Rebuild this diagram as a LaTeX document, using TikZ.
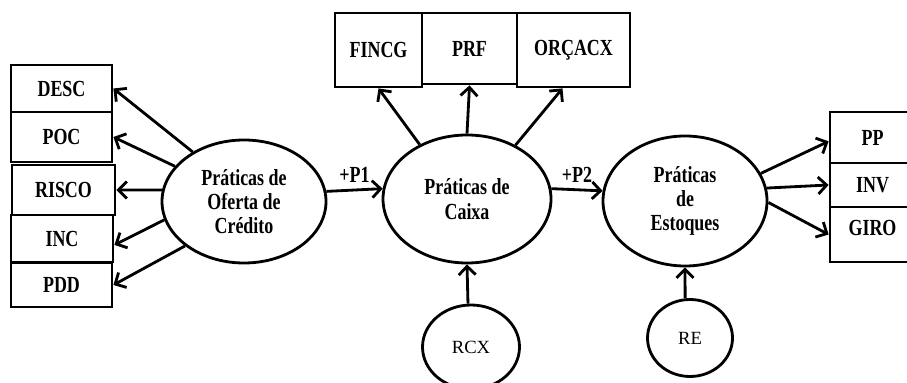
\documentclass[tikz,border=0pt]{standalone}
\usepackage{fontspec}
\setmainfont{Liberation Serif}
\newfontfamily\narrowbf[FakeStretch=0.78]{Liberation Serif}
\usetikzlibrary{shapes.geometric,arrows.meta}

\begin{document}
\begin{tikzpicture}[line width=1.6pt,
    every node/.style={font=\narrowbf\fontsize{13.1}{13.8}\selectfont\bfseries},
    ind/.style={draw,rectangle,inner sep=0pt,minimum width=2.02cm},
    constr/.style={draw,ellipse,align=center,inner sep=0pt,minimum width=3.28cm,minimum height=2.5cm},
    resid/.style={draw,ellipse,inner sep=0pt,font=\fontsize{10.6}{13}\selectfont\mdseries},
    arr/.style={-{Straight Barb[length=1.7mm,width=3.4mm]}}]
    \useasboundingbox (0,0) rectangle (18.14,-7.66);
    % constructs
    \node[constr,minimum height=2.46cm] (OC) at (4.88,-4.03) {Práticas de\\Oferta de\\Crédito};
    \node[constr,minimum width=3.36cm,minimum height=2.56cm] (CX) at (9.34,-3.98) {Práticas de\\Caixa};
    \node[constr,minimum height=2.6cm] (ES) at (13.7,-4.02) {Práticas\\de\\Estoques};
    \node[resid,minimum width=1.94cm,minimum height=1.68cm] (RCX) at (9.42,-6.94) {RCX};
    \node[resid,minimum width=1.7cm,minimum height=1.54cm] (RE) at (13.8,-6.76) {RE};
    % indicators
    \node[ind,minimum height=0.94cm] (DESC) at (1.23,-1.77) {DESC};
    \node[ind,minimum height=1cm] (POC) at (1.23,-2.74) {POC};
    \node[ind,minimum width=2.06cm,minimum height=1cm] (RISCO) at (1.27,-3.8) {RISCO};
    \node[ind,minimum width=2.04cm,minimum height=0.94cm] (INC) at (1.24,-4.77) {INC};
    \node[ind,minimum height=0.88cm] (PDD) at (1.23,-5.7) {PDD};
    \node[ind,minimum width=1.74cm,minimum height=1.48cm] (FINCG) at (7.57,-1) {FINCG};
    \node[ind,minimum width=1.9cm,minimum height=1.42cm] (PRF) at (9.39,-0.97) {PRF};
    \node[ind,minimum width=2.26cm,minimum height=1.48cm] (ORCACX) at (11.47,-1) {ORÇACX};
    \node[ind,minimum width=1.7cm,minimum height=1.02cm] (PP) at (17.45,-2.75) {PP};
    \node[ind,minimum width=1.7cm,minimum height=0.88cm] (INV) at (17.45,-3.7) {INV};
    \node[ind,minimum width=1.7cm,minimum height=1.1cm,text depth=0.28cm] (GIRO) at (17.45,-4.69) {GIRO};
    % paths
    \draw[arr] (OC.7) -- (CX.173)
      node[midway,above] {+P1};
    \draw[arr] (CX.7) -- (ES.173)
      node[midway,above] {+P2};
    \draw[arr] (OC.136) -- (DESC.east);
    \draw[arr] (OC.153) -- (POC.east);
    \draw[arr] (OC.172) -- (RISCO.east);
    \draw[arr] (OC.193) -- (INC.-7);
    \draw[arr] (OC.217) -- (PDD.east);
    \draw[arr] (CX.131) -- (FINCG.south);
    \draw[arr] (CX.north) -- (PRF.south);
    \draw[arr] (CX.48) -- (ORCACX.-106);
    \draw[arr] (ES.20) -- (PP.185);
    \draw[arr] (ES.9) -- (INV.west);
    \draw[arr] (ES.-1) -- (GIRO.west);
    \draw[arr] (RCX.94) -- (CX.south);
    \draw[arr] (RE.97) -- (ES.south);
\end{tikzpicture}
\end{document}
